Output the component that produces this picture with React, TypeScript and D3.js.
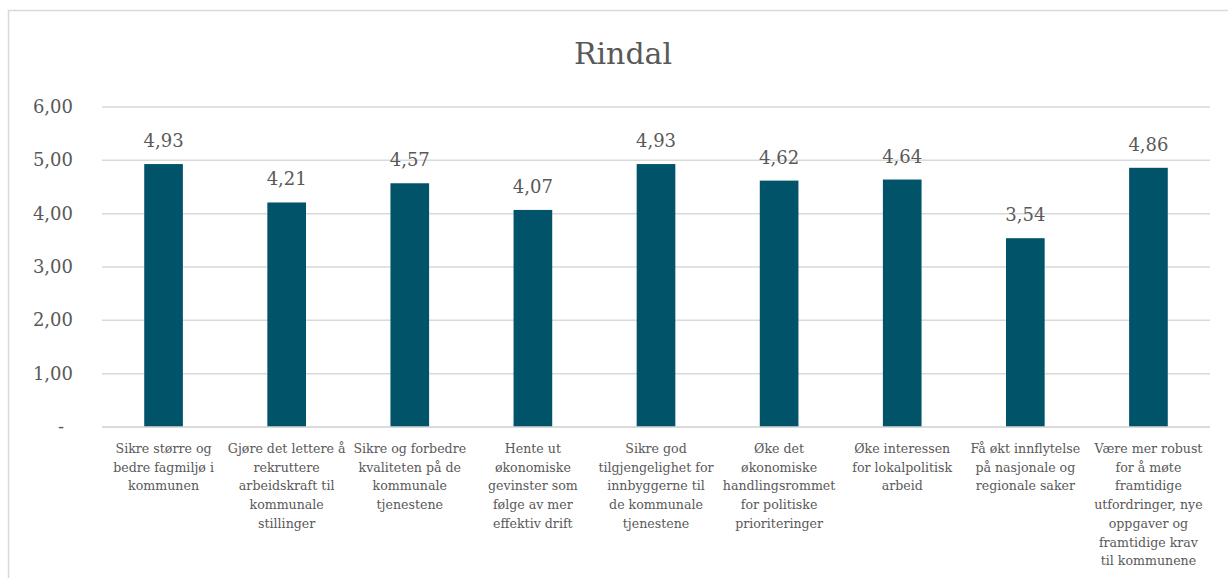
import React from "react";
import * as d3 from "d3";

const title = "Rindal";
const categories: string[][] = [
  ["Sikre større og", "bedre fagmiljø i", "kommunen"],
  ["Gjøre det lettere å", "rekruttere", "arbeidskraft til", "kommunale", "stillinger"],
  ["Sikre og forbedre", "kvaliteten på de", "kommunale", "tjenestene"],
  ["Hente ut", "økonomiske", "gevinster som", "følge av mer", "effektiv drift"],
  ["Sikre god", "tilgjengelighet for", "innbyggerne til", "de kommunale", "tjenestene"],
  ["Øke det", "økonomiske", "handlingsrommet", "for politiske", "prioriteringer"],
  ["Øke interessen", "for lokalpolitisk", "arbeid"],
  ["Få økt innflytelse", "på nasjonale og", "regionale saker"],
  ["Være mer robust", "for å møte", "framtidige", "utfordringer, nye", "oppgaver og", "framtidige krav", "til kommunene"],
];
const values = [4.93, 4.21, 4.57, 4.07, 4.93, 4.62, 4.64, 3.54, 4.86];
const yTicks = [0, 1, 2, 3, 4, 5, 6];

const W = 1228;
const H = 578;
const left = 102;
const right = 1210;
const top = 107;
const bottom = 427;
const FONT = "'DejaVu Serif', 'Liberation Serif', serif";
const TEXT = "#595959";
const BAR = "#005369";
const GRID = "#D9D9D9";

const fmt = (v: number) => (v === 0 ? "-" : v.toFixed(2).replace(".", ","));

export default function App() {
  const x = d3
    .scaleBand<number>()
    .domain(d3.range(values.length))
    .range([left, right])
    .paddingInner(0.686)
    .paddingOuter(0.343);
  const y = d3.scaleLinear().domain([0, 6]).range([bottom, top]);

  return (
    <svg
      width={W}
      height={H}
      style={{ position: "absolute", left: 0, top: 0, background: "#fff", fontFamily: FONT }}
    >
      <rect x={8.5} y={10.5} width={1240} height={600} fill="#fff" stroke={GRID} strokeWidth={1.5} />
      <text x={623} y={64} textAnchor="middle" fontSize={30} fill={TEXT}>
        {title}
      </text>
      {yTicks.map((t) => (
        <g key={t}>
          <line x1={left} x2={right} y1={y(t)} y2={y(t)} stroke={GRID} strokeWidth={1.5} />
          <text
            x={t === 0 ? 61 : 73}
            y={y(t) + 6}
            textAnchor={t === 0 ? "middle" : "end"}
            fontSize={18}
            fill={TEXT}
          >
            {fmt(t)}
          </text>
        </g>
      ))}
      {values.map((v, i) => (
        <g key={i}>
          <rect x={x(i)} y={y(v)} width={x.bandwidth()} height={y(0) - y(v)} fill={BAR} />
          <text
            x={(x(i) as number) + x.bandwidth() / 2}
            y={y(v) - 17}
            textAnchor="middle"
            fontSize={18}
            fill={TEXT}
          >
            {fmt(v)}
          </text>
        </g>
      ))}
      <line x1={left} x2={right} y1={y(0)} y2={y(0)} stroke={GRID} strokeWidth={1.5} />
      {categories.map((lines, i) => (
        <text
          key={i}
          x={(x(i) as number) + x.bandwidth() / 2}
          y={453}
          textAnchor="middle"
          fontSize={12.6}
          fill={TEXT}
        >
          {lines.map((l, j) => (
            <tspan key={j} x={(x(i) as number) + x.bandwidth() / 2} dy={j === 0 ? 0 : 18.7}>
              {l}
            </tspan>
          ))}
        </text>
      ))}
    </svg>
  );
}
